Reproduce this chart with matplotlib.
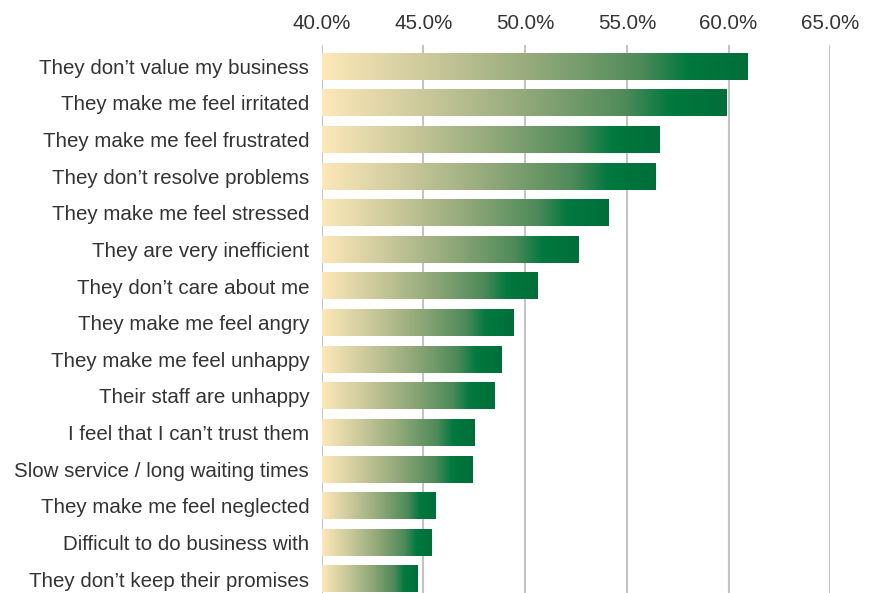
import numpy as np
import matplotlib
matplotlib.use("Agg")
import matplotlib.pyplot as plt
from matplotlib.colors import LinearSegmentedColormap
from matplotlib.ticker import FuncFormatter

plt.rcParams['font.family'] = ['Liberation Sans', 'DejaVu Sans']

# Data
labels = [
    "They don\u2019t value my business",
    "They make me feel irritated",
    "They make me feel frustrated",
    "They don\u2019t resolve problems",
    "They make me feel stressed",
    "They are very inefficient",
    "They don\u2019t care about me",
    "They make me feel angry",
    "They make me feel unhappy",
    "Their staff are unhappy",
    "I feel that I can\u2019t trust them",
    "Slow service / long waiting times",
    "They make me feel neglected",
    "Difficult to do business with",
    "They don\u2019t keep their promises",
]
values = [60.9, 59.9, 56.6, 56.4, 54.1, 52.6, 50.6, 49.4, 48.8, 48.5,
          47.5, 47.4, 45.6, 45.4, 44.7]
x_ticks = [40, 45, 50, 55, 60, 65]
x_min = 40

# cream -> green gradient, per bar
cmap = LinearSegmentedColormap.from_list("creamgreen", [
    (0.0, "#FDE8B8"),
    (0.25, "#CBC99B"),
    (0.5, "#93A97A"),
    (0.75, "#4F8A5A"),
    (0.86, "#00793F"),
    (1.0, "#006E39"),
])
grad = np.linspace(0, 1, 256).reshape(1, -1)

fig = plt.figure(figsize=(8.74, 5.93), dpi=100)
ax = fig.add_axes([0.368, 0.0, 0.582, 0.924])

bar_h = 0.73
y = np.arange(len(labels))
for yi, v in zip(y, values):
    ax.imshow(grad, cmap=cmap, aspect='auto', interpolation='bilinear',
              extent=(x_min, v, yi + bar_h / 2, yi - bar_h / 2), zorder=2)

ax.set_xlim(40, 65)
ax.set_ylim(len(labels) - 0.62, -0.58)
ax.set_xticks(x_ticks)
ax.xaxis.set_major_formatter(FuncFormatter(lambda v, p: f"{v:.1f}%"))
ax.xaxis.tick_top()
ax.set_yticks(y)
ax.set_yticklabels(labels)
ax.tick_params(axis='both', length=0, labelsize=14.8, colors='#333333')
ax.tick_params(axis='y', pad=9)
ax.tick_params(axis='x', pad=9)

ax.grid(axis='x', color='#C4C4C4', linewidth=1.5, zorder=0)
ax.set_axisbelow(True)
for s in ax.spines.values():
    s.set_visible(False)

fig.savefig("out.png", dpi=100)
